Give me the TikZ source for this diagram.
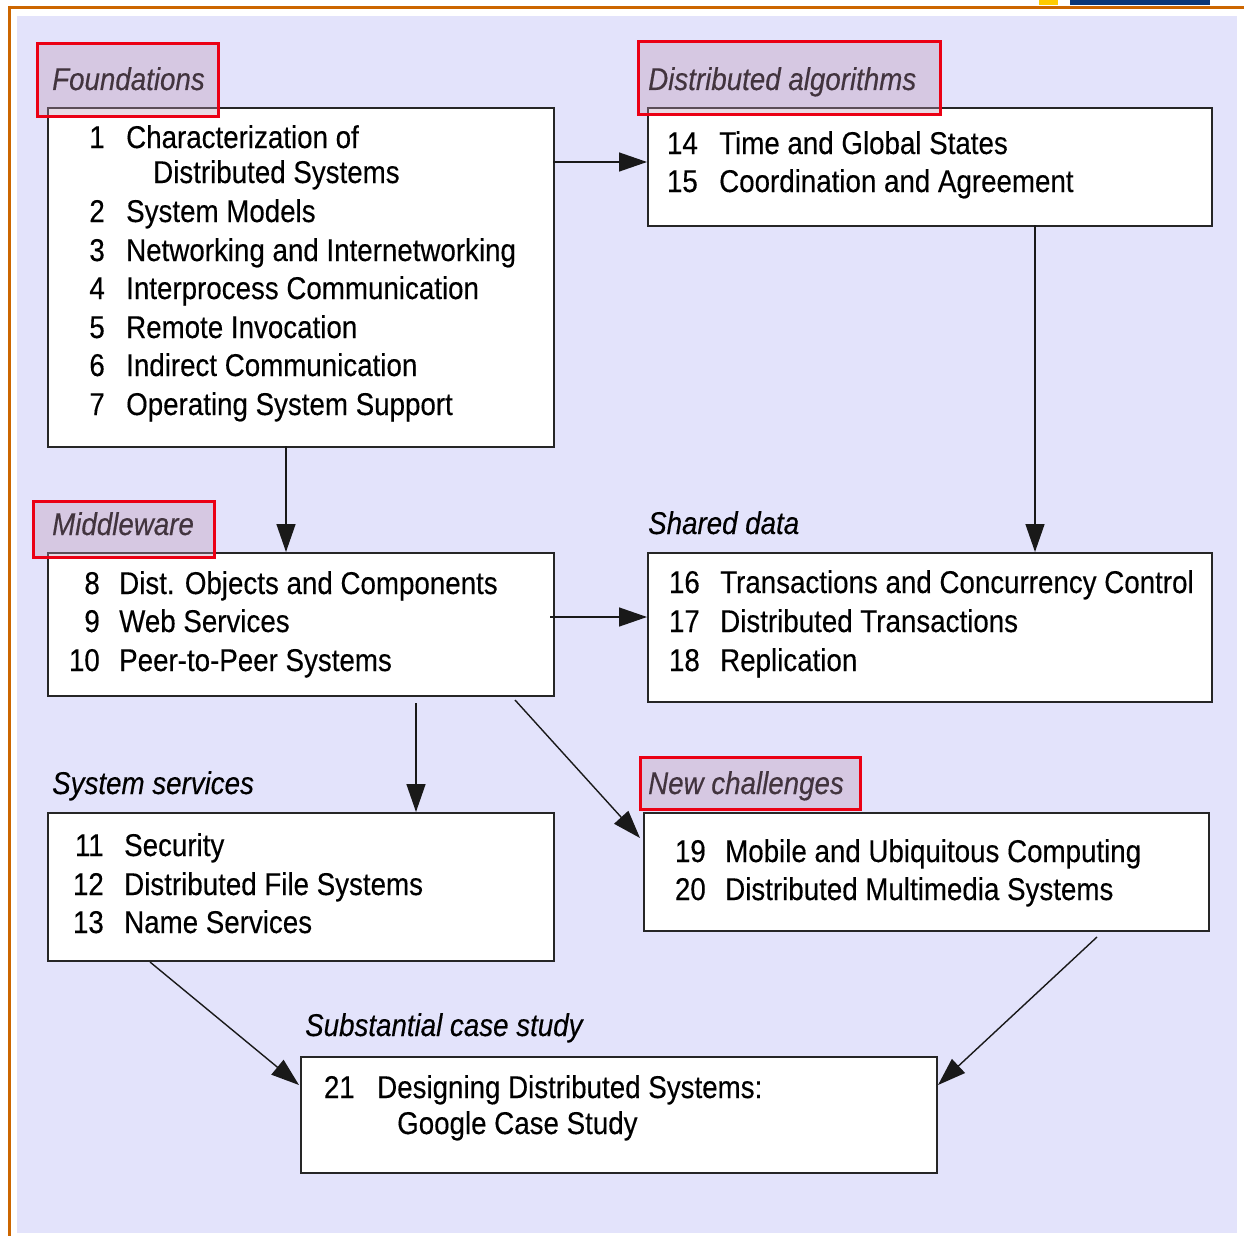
\documentclass[tikz,border=0pt]{standalone}
\usepackage{fontspec}
\setmainfont{Liberation Sans}[FakeStretch=0.88,FakeBold=0.3]
\usetikzlibrary{arrows.meta}
\definecolor{lav}{RGB}{227,227,251}
\definecolor{frameorange}{RGB}{204,102,0}
\definecolor{hlfill}{RGB}{190,150,180}
\definecolor{hlred}{RGB}{235,0,20}
\definecolor{topyellow}{RGB}{255,204,0}
\definecolor{topblue}{RGB}{10,55,120}
\begin{document}
\begin{tikzpicture}[x=1pt,y=-1pt,
  box/.style={draw=black!85,line width=1.8pt,fill=white,rectangle,inner sep=0pt,anchor=north west},
  item/.style={anchor=base west,inner sep=0pt,font=\fontsize{31.5}{38}\selectfont},
  num/.style={anchor=base east,inner sep=0pt,font=\fontsize{31.5}{38}\selectfont},
  lab/.style={anchor=base west,inner sep=0pt,font=\fontsize{31.5}{38}\selectfont\itshape},
  hl/.style={draw=hlred,line width=2.6pt,fill=hlfill,fill opacity=0.35,draw opacity=1,rectangle,inner sep=0pt,anchor=north west},
  arr/.style={-{Triangle[length=28pt,width=19pt]},line width=1.4pt,draw=black!90}]
\useasboundingbox (0,0) rectangle (1244,1236);
% page frame
\fill[white] (0,0) rectangle (1244,1236);
\fill[lav] (17,16) rectangle (1237,1233);
\draw[frameorange,line width=3pt] (8,7.5) -- (1244,7.5);
\draw[frameorange,line width=3pt] (9.5,6) -- (9.5,1236);
\fill[topyellow] (1039,0) rectangle (1058,5.5);
\fill[topblue] (1070,0) rectangle (1210,5.5);

% boxes
\node[box,minimum width=506pt,minimum height=339pt] (found) at (47,107) {};
\node[box,minimum width=564pt,minimum height=118pt] (dalg) at (647,107) {};
\node[box,minimum width=506pt,minimum height=143pt] (mid) at (47,552) {};
\node[box,minimum width=564pt,minimum height=149pt] (shd) at (647,552) {};
\node[box,minimum width=506pt,minimum height=148pt] (sys) at (47,812) {};
\node[box,minimum width=565pt,minimum height=118pt] (newc) at (643,812) {};
\node[box,minimum width=636pt,minimum height=116pt] (case) at (300,1056) {};

% Foundations items
\foreach \n/\y/\t [count=\i] in {1/148/Characterization of,2/222/System Models,3/261/Networking and Internetworking,4/299/Interprocess Communication,5/338/Remote Invocation,6/376/Indirect Communication,7/415/Operating System Support}{
  \node[num] (fn\i) at (105,\y) {\n};
  \node[item] (ft\i) at (126,\y) {\t};
}
\node[item] (ft1b) at (153,183) {Distributed Systems};

% Distributed algorithms items
\foreach \n/\y/\t [count=\i] in {14/154/Time and Global States,15/192/Coordination and Agreement}{
  \node[num] (dn\i) at (698,\y) {\n};
  \node[item] (dt\i) at (719,\y) {\t};
}

% Middleware items
\foreach \n/\y/\t [count=\i] in {8/594/Dist. Objects and Components,9/632/Web Services,10/671/Peer-to-Peer Systems}{
  \node[num] (mn\i) at (100,\y) {\n};
  \node[item] (mt\i) at (119,\y) {\t};
}

% Shared data items
\foreach \n/\y/\t [count=\i] in {16/593/Transactions and Concurrency Control,17/632/Distributed Transactions,18/671/Replication}{
  \node[num] (sn\i) at (700,\y) {\n};
  \node[item] (st\i) at (720,\y) {\t};
}

% System services items
\foreach \n/\y/\t [count=\i] in {11/856/Security,12/895/Distributed File Systems,13/933/Name Services}{
  \node[num] (yn\i) at (104,\y) {\n};
  \node[item] (yt\i) at (124,\y) {\t};
}

% New challenges items
\foreach \n/\y/\t [count=\i] in {19/862/Mobile and Ubiquitous Computing,20/900/Distributed Multimedia Systems}{
  \node[num] (cn\i) at (706,\y) {\n};
  \node[item] (ct\i) at (725,\y) {\t};
}

% Case study items
\node[num] (kn1) at (355,1098) {21};
\node[item] (kt1) at (377,1098) {Designing Distributed Systems:};
\node[item] (kt1b) at (397,1134) {Google Case Study};

% section labels
\node[lab] (lfound) at (52,90) {Foundations};
\node[lab] (ldalg) at (648,90) {Distributed algorithms};
\node[lab] (lmid) at (52,535) {Middleware};
\node[lab] (lshd) at (648,534) {Shared data};
\node[lab] (lsys) at (52,794) {System services};
\node[lab] (lnewc) at (648,794) {New challenges};
\node[lab] (lcase) at (305,1036) {Substantial case study};

% highlight overlays
\node[hl,minimum width=181pt,minimum height=73pt] (hfound) at (36,42) {};
\node[hl,minimum width=302pt,minimum height=73pt] (hdalg) at (637,40) {};
\node[hl,minimum width=181pt,minimum height=56pt] (hmid) at (32,500) {};
\node[hl,minimum width=220pt,minimum height=52pt] (hnewc) at (639,756) {};

% connectors
\coordinate (a1s) at (553,162);
\draw[arr] (a1s) -- (dalg.west |- a1s);
\coordinate (a2s) at (286,446);
\draw[arr] (a2s) -- (mid.north -| a2s);
\coordinate (a3s) at (1035,225);
\draw[arr] (a3s) -- (shd.north -| a3s);
\coordinate (a4s) at (550,617);
\draw[arr] (a4s) -- (shd.west |- a4s);
\coordinate (a5s) at (416,703);
\draw[arr] (a5s) -- (sys.north -| a5s);
\coordinate (a6s) at (515,700);
\coordinate (a6e) at (640,838);
\draw[arr] (a6s) -- (a6e);
\coordinate (a7s) at (150,962);
\coordinate (a7e) at (299,1085);
\draw[arr] (a7s) -- (a7e);
\coordinate (a8s) at (1097,937);
\coordinate (a8e) at (938,1085);
\draw[arr] (a8s) -- (a8e);
\end{tikzpicture}
\end{document}
